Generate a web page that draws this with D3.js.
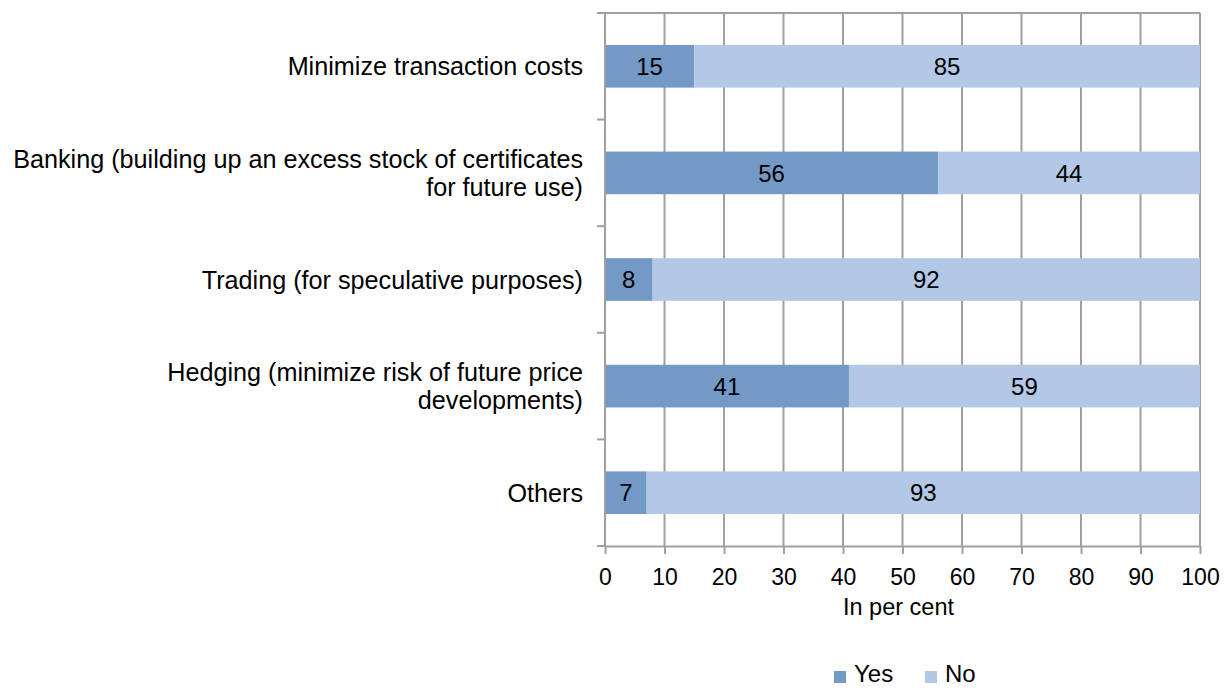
<!DOCTYPE html>
<html>
<head>
<meta charset="utf-8">
<script src="https://cdn.jsdelivr.net/npm/d3@7.9.0/dist/d3.min.js"></script>
<style>
  body { margin: 0; background: #fff; }
  svg { font-family: "Liberation Sans", Arial, sans-serif; display: block; }
</style>
</head>
<body>
<svg id="chart" width="1231" height="688"></svg>
<script>
const categories = [
  ["Minimize transaction costs"],
  ["Banking (building up an excess stock of certificates", "for future use)"],
  ["Trading (for speculative purposes)"],
  ["Hedging (minimize risk of future price", "developments)"],
  ["Others"]
];
const yesValues = [15, 56, 8, 41, 7];
const noValues = [85, 44, 92, 59, 93];
const xTicks = [0, 10, 20, 30, 40, 50, 60, 70, 80, 90, 100];
const seriesNames = ["Yes", "No"];
const colors = ["#7399c6", "#b3c8e6"];

const svg = d3.select("#chart");
const plotLeft = 605, plotRight = 1200, plotTop = 13, plotBottom = 546;

const x = d3.scaleLinear().domain([0, 100]).range([plotLeft, plotRight]);
const y = d3.scaleBand().domain(d3.range(categories.length)).range([plotTop, plotBottom]).paddingInner(0.6).paddingOuter(0.3);
const yOuter = d3.scaleBand().domain(d3.range(categories.length)).range([plotTop, plotBottom]);

// vertical gridlines
svg.append("g")
  .selectAll("line")
  .data(xTicks.slice(1))
  .join("line")
  .attr("x1", d => x(d)).attr("x2", d => x(d))
  .attr("y1", plotTop).attr("y2", plotBottom)
  .attr("stroke", "#a0a0a0").attr("stroke-width", 2);

// top border
svg.append("line")
  .attr("x1", plotLeft).attr("x2", plotRight).attr("y1", plotTop).attr("y2", plotTop)
  .attr("stroke", "#a0a0a0").attr("stroke-width", 2);

// bars
const rows = categories.map((c, i) => ({ i, yes: yesValues[i], no: noValues[i] }));
const bars = svg.append("g");
rows.forEach(r => {
  const segs = [
    { x0: 0, x1: r.yes, v: r.yes, c: colors[0] },
    { x0: r.yes, x1: r.yes + r.no, v: r.no, c: colors[1] }
  ];
  segs.forEach(s => {
    bars.append("rect")
      .attr("x", x(s.x0)).attr("y", y(r.i))
      .attr("width", x(s.x1) - x(s.x0)).attr("height", y.bandwidth())
      .attr("fill", s.c);
    bars.append("text")
      .attr("x", (x(s.x0) + x(s.x1)) / 2)
      .attr("y", y(r.i) + y.bandwidth() / 2)
      .attr("dy", "0.36em")
      .attr("text-anchor", "middle")
      .attr("font-size", 24)
      .attr("fill", "#000")
      .text(s.v);
  });
});

// left axis line + ticks
svg.append("line")
  .attr("x1", plotLeft).attr("x2", plotLeft).attr("y1", plotTop).attr("y2", plotBottom)
  .attr("stroke", "#a0a0a0").attr("stroke-width", 2);
svg.append("g")
  .selectAll("line")
  .data(d3.range(categories.length + 1))
  .join("line")
  .attr("x1", plotLeft - 8).attr("x2", plotLeft)
  .attr("y1", d => plotTop + d * yOuter.step()).attr("y2", d => plotTop + d * yOuter.step())
  .attr("stroke", "#a0a0a0").attr("stroke-width", 2);

// bottom axis
const xAxis = svg.append("g")
  .attr("transform", `translate(0,${plotBottom})`)
  .call(d3.axisBottom(x).tickValues(xTicks).tickSize(8).tickPadding(15).tickSizeOuter(0));
xAxis.select(".domain").attr("stroke", "#a0a0a0").attr("stroke-width", 2);
xAxis.selectAll(".tick line").attr("stroke", "#a0a0a0").attr("stroke-width", 2);
xAxis.selectAll(".tick text")
  .attr("font-size", 23).attr("font-family", "Liberation Sans, Arial, sans-serif").attr("fill", "#000");

svg.append("text")
  .attr("x", (plotLeft + plotRight) / 2 - 4).attr("y", 615)
  .attr("text-anchor", "middle").attr("font-size", 23.5)
  .text("In per cent");

// category labels
categories.forEach((lines, i) => {
  const cy = yOuter(i) + yOuter.bandwidth() / 2;
  const lh = 28;
  const t = svg.append("text")
    .attr("text-anchor", "end")
    .attr("font-size", 25.2)
    .attr("fill", "#000");
  lines.forEach((ln, k) => {
    t.append("tspan")
      .attr("x", 583)
      .attr("y", cy + (k - (lines.length - 1) / 2) * lh)
      .attr("dy", "0.36em")
      .text(ln);
  });
});

// legend
const legend = svg.append("g");
const legendX = [834, 925];
seriesNames.forEach((n, i) => {
  legend.append("rect")
    .attr("x", legendX[i]).attr("y", 671).attr("width", 12).attr("height", 12)
    .attr("fill", colors[i]);
  legend.append("text")
    .attr("x", legendX[i] + 20).attr("y", 682)
    .attr("font-size", 24).text(n);
});
</script>
</body>
</html>
